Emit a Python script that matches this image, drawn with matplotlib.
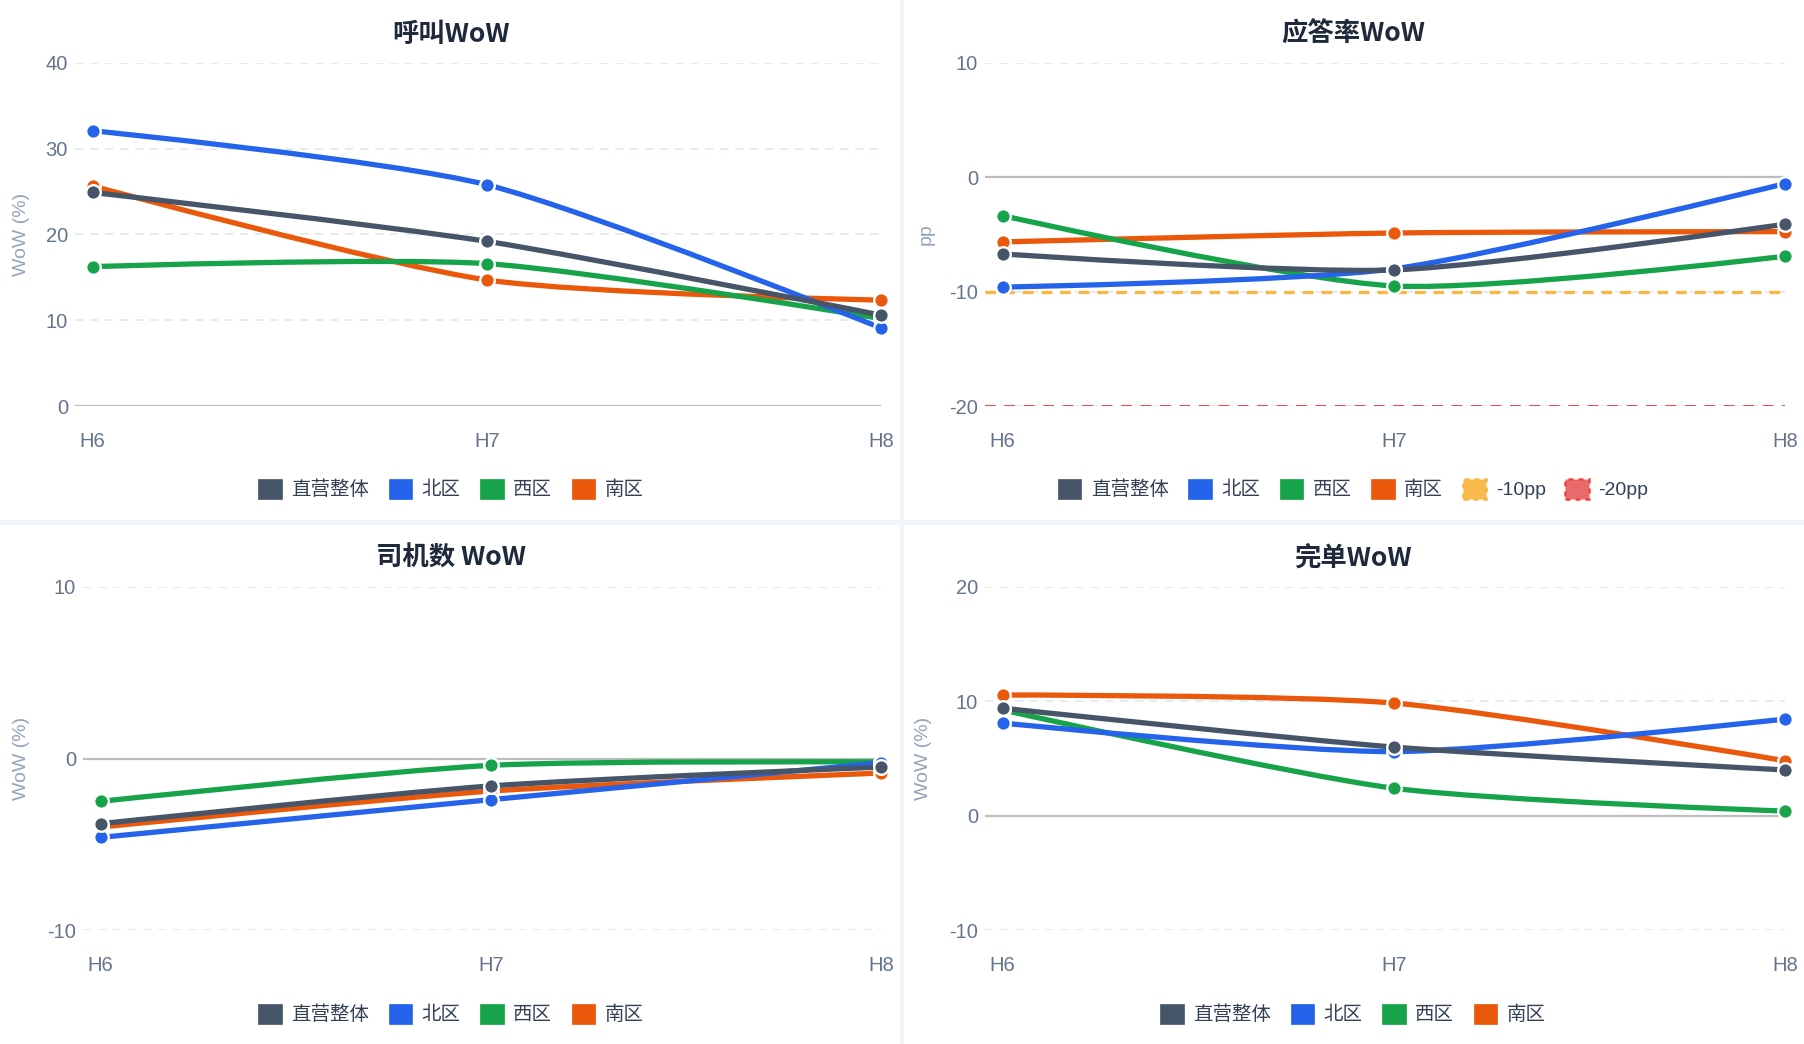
import numpy as np
import matplotlib
matplotlib.use('Agg')
import matplotlib.pyplot as plt
from matplotlib.path import Path
from matplotlib.patches import PathPatch, Patch, Rectangle
from matplotlib.font_manager import FontProperties

plt.rcParams['font.family'] = ['Liberation Sans', 'Noto Sans CJK SC', 'DejaVu Sans']

# ---------------- data ----------------
categories = ['H6', 'H7', 'H8']
series_names = ['直营整体', '北区', '西区', '南区']
series_colors = ['#475569', '#2563eb', '#16a34a', '#ea580c']

call_overall = [24.9, 19.2, 10.6]
call_north = [32.1, 25.8, 9.1]
call_west = [16.25, 16.6, 10.2]
call_south = [25.65, 14.7, 12.35]

ans_overall = [-6.7, -8.1, -4.1]
ans_north = [-9.6, -8.0, -0.55]
ans_west = [-3.35, -9.5, -6.9]
ans_south = [-5.65, -4.87, -4.75]
threshold_values = [-10, -20]
threshold_names = ['-10pp', '-20pp']
threshold_colors = ['#f8b43c', '#ef4444']
threshold_fills = ['#f9bb4e', '#e86a6a']

drv_overall = [-3.8, -1.6, -0.5]
drv_north = [-4.6, -2.4, -0.25]
drv_west = [-2.5, -0.4, -0.2]
drv_south = [-4.0, -1.9, -0.85]

fin_overall = [9.4, 6.0, 4.0]
fin_north = [8.1, 5.6, 8.45]
fin_west = [9.25, 2.4, 0.4]
fin_south = [10.55, 9.85, 4.8]

titles = ['呼叫WoW', '应答率WoW', '司机数 WoW', '完单WoW']
ylabels = ['WoW (%)', 'pp', 'WoW (%)', 'WoW (%)']
yticks_list = [[0, 10, 20, 30, 40], [-20, -10, 0, 10], [-10, 0, 10], [-10, 0, 10, 20]]
panel_data = [
    [call_overall, call_north, call_west, call_south],
    [ans_overall, ans_north, ans_west, ans_south],
    [drv_overall, drv_north, drv_west, drv_south],
    [fin_overall, fin_north, fin_west, fin_south],
]

# ---------------- layout ----------------
W, H = 1804, 1044
fig = plt.figure(figsize=(W / 100, H / 100), dpi=100)
fig.patch.set_facecolor('white')

# axes rects in pixels: (left, right, top, bottom)
rects = [(75, 881, 63, 406), (985, 1785, 63, 406), (83, 881, 587, 930), (985, 1785, 587, 930)]
panel_centers = [(451, 34, 489), (1353, 34, 489), (451, 558, 1014), (1353, 558, 1014)]
ylabel_pos = [(21, 234), (926, 234), (21, 758), (924, 758)]

TICK_C = '#64748b'
font_cjk = ['Liberation Sans', 'Noto Sans CJK SC', 'DejaVu Sans']
SMOOTH = 0.25


def smooth_path(ax, xs, ys, smooth=SMOOTH):
    pts = np.column_stack([xs, ys]).astype(float)
    disp = ax.transData.transform(pts)
    n = len(pts)
    cp_prev = [disp[i] for i in range(n)]
    cp_next = [disp[i] for i in range(n)]
    for i in range(1, n - 1):
        v = disp[i + 1] - disp[i - 1]
        l0 = np.hypot(*(disp[i] - disp[i - 1]))
        l1 = np.hypot(*(disp[i + 1] - disp[i]))
        r = l1 / (l0 + l1)
        cp_next[i] = disp[i] + v * smooth * r
        cp_prev[i] = disp[i] - v * smooth * (1 - r)
    inv = ax.transData.inverted()
    verts = [pts[0]]
    codes = [Path.MOVETO]
    for i in range(n - 1):
        verts += [inv.transform(cp_next[i]), inv.transform(cp_prev[i + 1]), pts[i + 1]]
        codes += [Path.CURVE4] * 3
    return Path(verts, codes)


x = np.arange(len(categories))
line_z = [6, 5, 4, 3]

for k in range(4):
    l, r, t, b = rects[k]
    ax = fig.add_axes([l / W, 1 - b / H, (r - l) / W, (b - t) / H])
    ax.set_facecolor('none')
    yt = yticks_list[k]
    ax.set_xlim(-0.045, 2.0)
    ax.set_ylim(min(yt), max(yt))
    for s in ax.spines.values():
        s.set_visible(False)
    ax.set_yticks(yt)
    ax.set_yticklabels([str(v) for v in yt])
    ax.set_xticks(x)
    ax.set_xticklabels(categories)
    ax.tick_params(axis='both', length=0, colors=TICK_C, labelsize=14.5)
    ax.tick_params(axis='x', pad=19)
    ax.tick_params(axis='y', pad=5)
    for v in yt:
        if v == 0:
            ax.axhline(v, color='#bdbdbd', lw=1.6, zorder=1)
        else:
            ax.axhline(v, color='#e2e8f0', lw=1.2, ls=(0, (5, 4)), zorder=1)

    if k == 1:
        ax.axhline(threshold_values[0], color=threshold_colors[0], lw=2.4,
                   ls=(0, (3.2, 2.4)), zorder=2, alpha=0.95)
        ax.axhline(threshold_values[1], color=threshold_colors[1], lw=1.4,
                   ls=(0, (5.5, 4.5)), zorder=2, alpha=1.0)

    for i, ys in enumerate(panel_data[k]):
        p = smooth_path(ax, x, ys)
        ax.add_patch(PathPatch(p, facecolor='none', edgecolor=series_colors[i],
                               lw=3.8, zorder=line_z[i], capstyle='round', joinstyle='round'))
    for i in [3, 2, 1, 0]:
        ys = panel_data[k][i]
        ax.plot(x, ys, 'o', ms=10.5, mfc=series_colors[i], mec='white', mew=1.7,
                zorder=10 + line_z[i], clip_on=False)

    cx, ty, ly = panel_centers[k]
    fig.text(cx / W, 1 - ty / H, titles[k], ha='center', va='center',
             fontsize=19, fontweight='bold', color='#1e293b',
             family=['Noto Sans CJK SC', 'DejaVu Sans'])
    yx, yy = ylabel_pos[k]
    fig.text(yx / W, 1 - yy / H, ylabels[k], ha='center', va='center', rotation=90,
             fontsize=14, color='#94a3b8')

    handles = [Patch(facecolor=c, edgecolor=c, lw=0.5) for c in series_colors]
    labels = list(series_names)
    if k == 1:
        for c, f, nm in zip(threshold_colors, threshold_fills, threshold_names):
            handles.append(Patch(facecolor=f, edgecolor=c, lw=1.8, ls=(0, (2, 2))))
            labels.append(nm)
    fig.legend(handles, labels, loc='center', bbox_to_anchor=(cx / W, 1 - ly / H),
               ncol=len(labels), frameon=False, handlelength=1.2, handleheight=1.2,
               handletextpad=0.5, columnspacing=1.0,
               prop=FontProperties(family=font_cjk, size=14), labelcolor='#334155')

# panel separators
fig.add_artist(Rectangle((900 / W, 0), 4 / W, 1, transform=fig.transFigure,
                         facecolor='#f1f5f9', edgecolor='none', zorder=0))
fig.add_artist(Rectangle((0, 519 / H), 1, 5 / H, transform=fig.transFigure,
                         facecolor='#f1f5f9', edgecolor='none', zorder=0))

fig.savefig('out.png', dpi=100, facecolor='white')
